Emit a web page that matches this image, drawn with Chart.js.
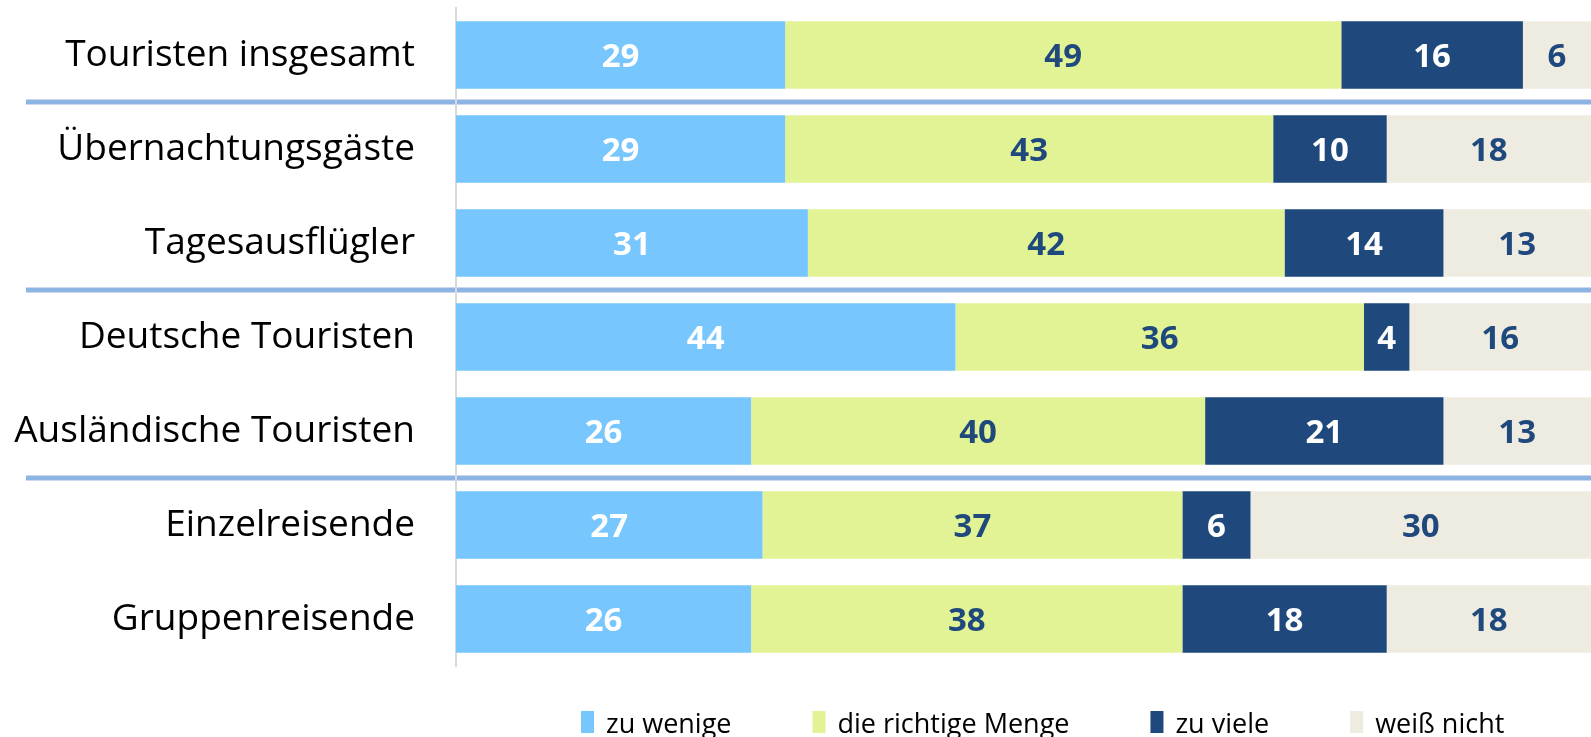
<!DOCTYPE html>
<html>
<head>
<meta charset="utf-8">
<script src="https://cdn.jsdelivr.net/npm/chart.js@4"></script>
<style>
    html, body { margin: 0; padding: 0; background: #ffffff; overflow: hidden; }
    #wrap { width: 1591px; height: 737px; }
</style>
</head>
<body>
<div id="wrap"><canvas id="chart" width="1591" height="737"></canvas></div>
<script>
const categories = [
    'Touristen insgesamt',
    'Übernachtungsgäste',
    'Tagesausflügler',
    'Deutsche Touristen',
    'Ausländische Touristen',
    'Einzelreisende',
    'Gruppenreisende'
];
const seriesNames = ['zu wenige', 'die richtige Menge', 'zu viele', 'weiß nicht'];
const zuWenige = [29, 29, 31, 44, 26, 27, 26];
const richtigeMenge = [49, 43, 42, 36, 40, 37, 38];
const zuViele = [16, 10, 14, 4, 21, 6, 18];
const weissNicht = [6, 18, 13, 16, 13, 30, 18];
// group separators sit after these category indices
const groupBreaks = [0, 2, 4];

const colors = ['#77C6FD', '#E1F395', '#1F497D', '#EEEBE0'];
const labelColors = ['#ffffff', '#1F497D', '#ffffff', '#1F497D'];

const separatorPlugin = {
    id: 'separators',
    beforeDraw(chart) {
        const y = chart.scales.y;
        const ctx = chart.ctx;
        ctx.save();
        ctx.strokeStyle = '#8EB4E3';
        ctx.lineWidth = 5;
        groupBreaks.forEach(i => {
            const py = (y.getPixelForValue(i) + y.getPixelForValue(i + 1)) / 2;
            ctx.beginPath();
            ctx.moveTo(26, py);
            ctx.lineTo(chart.chartArea.right, py);
            ctx.stroke();
        });
        ctx.restore();
    }
};

const valueLabelPlugin = {
    id: 'valueLabels',
    afterDatasetsDraw(chart) {
        const ctx = chart.ctx;
        ctx.save();
        ctx.font = 'bold 33px "Open Sans"';
        ctx.textAlign = 'center';
        ctx.textBaseline = 'middle';
        chart.data.datasets.forEach((ds, di) => {
            const meta = chart.getDatasetMeta(di);
            ctx.fillStyle = labelColors[di];
            meta.data.forEach((bar, i) => {
                const cx = (bar.x + bar.base) / 2;
                ctx.fillText(String(ds.data[i]), cx, bar.y + 3);
            });
        });
        ctx.restore();
    }
};

const legendPlugin = {
    id: 'bottomLegend',
    afterDraw(chart) {
        const ctx = chart.ctx;
        ctx.save();
        ctx.font = '27px "Open Sans"';
        ctx.textBaseline = 'middle';
        ctx.textAlign = 'left';
        let x = 581;
        chart.data.datasets.forEach(ds => {
            ctx.fillStyle = ds.backgroundColor;
            ctx.fillRect(x, 711, 13, 22);
            ctx.fillStyle = '#000000';
            ctx.fillText(ds.label, x + 25, 725);
            x += 25 + ctx.measureText(ds.label).width + 81;
        });
        ctx.restore();
    }
};

const seriesData = [zuWenige, richtigeMenge, zuViele, weissNicht];

new Chart(document.getElementById('chart'), {
    type: 'bar',
    data: {
        labels: categories,
        datasets: seriesNames.map((name, i) => ({
            label: name,
            data: seriesData[i],
            backgroundColor: colors[i],
            borderWidth: 0,
            barPercentage: 0.72,
            categoryPercentage: 1
        }))
    },
    options: {
        indexAxis: 'y',
        responsive: false,
        animation: false,
        layout: {
            padding: { top: 8, bottom: 71, left: 0, right: 0 }
        },
        plugins: {
            legend: { display: false },
            tooltip: { enabled: false }
        },
        scales: {
            x: {
                stacked: true,
                display: false,
                min: 0,
                max: 100
            },
            y: {
                stacked: true,
                afterFit: (scale) => {
                    scale.width = 456;
                    // labels fit inside their rows, no extra room above or below
                    scale.paddingTop = 0;
                    scale.paddingBottom = 0;
                },
                grid: { display: false },
                border: { display: true, color: '#D9D9D9', width: 2 },
                ticks: {
                    padding: 33,
                    color: '#000000',
                    font: { family: 'Open Sans', size: 37, lineHeight: 1.1 }
                }
            }
        }
    },
    plugins: [separatorPlugin, valueLabelPlugin, legendPlugin]
});
</script>
</body>
</html>
